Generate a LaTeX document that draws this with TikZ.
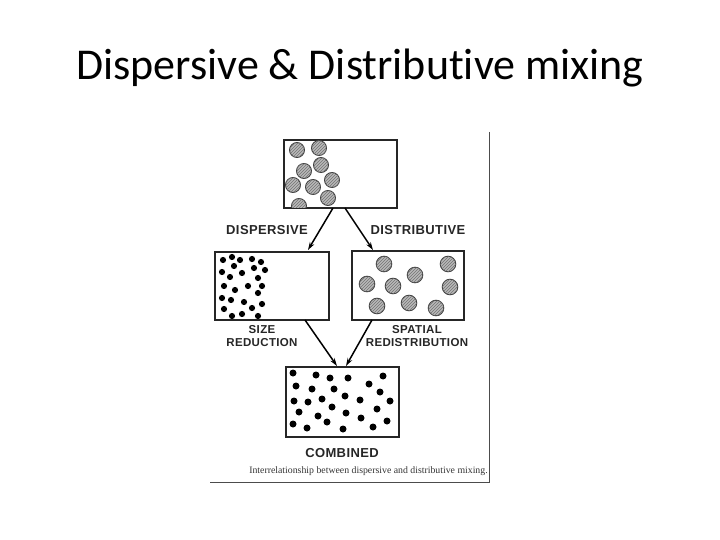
\documentclass[tikz,border=0pt]{standalone}
\usepackage{fontspec}
\setmainfont{Carlito}[Ligatures=NoCommon]
\newfontfamily\lblfont{Liberation Sans}[LetterSpace=3]
\newfontfamily\capfont{Liberation Serif}
\usetikzlibrary{arrows.meta,patterns}
\tikzset{
  panel/.style={draw=black!85, line width=1.1pt, fill=white},
  bigp/.style={draw=black!75, line width=0.9pt, fill=gray!55, postaction={pattern=north east lines, pattern color=black!55}},
  dot/.style={fill=black},
  flow/.style={line width=1.5pt, -{Stealth[length=8pt,width=5pt]}},
  lbl/.style={font=\lblfont\bfseries\fontsize{13}{14}\selectfont, text=black!85, inner sep=0pt},
  slbl/.style={font=\lblfont\bfseries\fontsize{11.5}{12.5}\selectfont, text=black!85, inner sep=0pt, align=center},
}
\begin{document}
\begin{tikzpicture}[x=1pt,y=-1pt]
\useasboundingbox (0,0) rectangle (720,540);
% title
\node[anchor=base, font=\fontsize{44}{52}\selectfont, inner sep=0pt] (title) at (360,80) {Dispersive \& Distributive mixing};
% frame
\draw[line width=0.9pt, black!70] (489,132) -- (489,482) -- (210,482);
% boxes
\draw[panel] (284,140) rectangle (397,208);
\draw[panel] (215,252) rectangle (329,320);
\draw[panel] (352,251) rectangle (464,320);
\draw[panel] (286,367) rectangle (399,437);
% top box circles
\begin{scope}
\clip (284,140) rectangle (397,208);
\foreach \p in {(297,150),(319,148),(321,165),(304,171),(332,180),(293,185),(313,187),(328,198),(299,206)}
  \draw[bigp] \p circle (7.5);
\end{scope}
% right box circles
\foreach \p in {(384,264),(448,264),(415,275),(367,284),(393,286),(450,287),(377,306),(409,303),(436,308)}
  \draw[bigp] \p circle (7.8);
% left box dots
\foreach \p in {(223,260),(232,257),(240,260),(252,259),(261,262),(234,266),(254,268),(265,270),(222,272),(230,277),(242,273),(258,278),(224,286),(235,290),(248,286),(262,286),(258,293),(222,298),(231,300),(244,302),(262,304),(224,309),(232,316),(242,314),(252,308),(258,316)}
  \fill[dot] \p circle (3.1);
% combined box dots
\foreach \p in {(293,373),(316,375),(330,378),(348,378),(383,376),(369,384),(296,386),(312,389),(334,389),(380,392),(345,396),(294,401),(308,402),(322,399),(360,400),(390,401),(332,407),(377,409),(299,412),(346,413),(318,416),(361,418),(327,422),(387,421),(293,424),(307,428),(343,429),(373,427)}
  \fill[dot] \p circle (3.5);
% connectors
\coordinate (a1) at (333,208); \coordinate (a2) at (308,250);
\coordinate (b1) at (345,208); \coordinate (b2) at (373,250);
\coordinate (c1) at (305,320); \coordinate (c2) at (337,366);
\coordinate (d1) at (372,320); \coordinate (d2) at (346,366);
\draw[flow] (a1) -- (a2);
\draw[flow] (b1) -- (b2);
\draw[flow] (c1) -- (c2);
\draw[flow] (d1) -- (d2);
% labels
\node[lbl] (disp) at (267,230) {DISPERSIVE};
\node[lbl] (dist) at (418,230) {DISTRIBUTIVE};
\node[slbl] (size) at (262,336) {SIZE\\REDUCTION};
\node[slbl] (spat) at (417,336) {SPATIAL\\REDISTRIBUTION};
\node[lbl] (comb) at (342,453) {COMBINED};
\node[font=\capfont\fontsize{9.8}{11}\selectfont, inner sep=0pt, text=black!80] (cap) at (368.5,471) {Interrelationship between dispersive and distributive mixing.};
\end{tikzpicture}
\end{document}
